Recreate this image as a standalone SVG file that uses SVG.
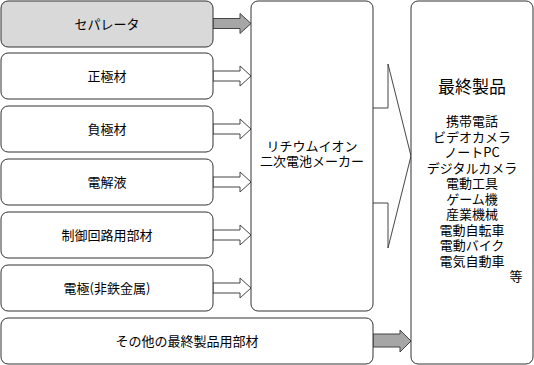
<svg xmlns="http://www.w3.org/2000/svg" width="534" height="365" viewBox="0 0 534 365">
<style>
.box{fill:#fff;stroke:#333;stroke-width:1}
.grey{fill:#d9d9d9}
.t{font-family:"Noto Sans CJK JP","Liberation Sans",sans-serif;font-size:13px;fill:#000;text-anchor:middle}
.big{font-size:17px}
.arw{fill:#fff;stroke:#444;stroke-width:1}
.arg{fill:#a6a6a6;stroke:#444;stroke-width:1}
</style>
<defs>
<path id="sa" d="M213,-5 H240 V-10 L251,0 L240,10 V5 H213 Z"/>
</defs>
<rect width="534" height="365" fill="#fff"/>
<g id="connectors">
<use href="#sa" y="23.5" class="arg"/>
<use href="#sa" y="76" class="arw"/>
<use href="#sa" y="129" class="arw"/>
<use href="#sa" y="182" class="arw"/>
<use href="#sa" y="235" class="arw"/>
<use href="#sa" y="288" class="arw"/>
<path class="arw" d="M373,108 H388 V64 L411,156 L388,248 V203 H373"/>
<path class="arg" d="M373,334 H400 V330 L411,341 L400,352 V347 H373 Z"/>
</g>
<g id="separator"><rect class="box grey" x="1" y="1" width="212" height="46" rx="7"/><text class="t" x="107" y="29">セパレータ</text></g>
<g id="cathode"><rect class="box" x="1" y="53" width="212" height="46" rx="7"/><text class="t" x="107" y="81">正極材</text></g>
<g id="anode"><rect class="box" x="1" y="106" width="212" height="46" rx="7"/><text class="t" x="107" y="134">負極材</text></g>
<g id="electrolyte"><rect class="box" x="1" y="159" width="212" height="46" rx="7"/><text class="t" x="107" y="187">電解液</text></g>
<g id="control"><rect class="box" x="1" y="212" width="212" height="46" rx="7"/><text class="t" x="107" y="240">制御回路用部材</text></g>
<g id="electrode"><rect class="box" x="1" y="265" width="212" height="46" rx="7"/><text class="t" x="107" y="293">電極(非鉄金属)</text></g>
<g id="other"><rect class="box" x="1" y="318" width="372" height="46" rx="7"/><text class="t" x="187" y="346">その他の最終製品用部材</text></g>
<g id="maker"><rect class="box" x="251" y="1" width="122" height="310" rx="7"/><text class="t" x="312" y="151">リチウムイオン<tspan x="312" dy="15">二次電池メーカー</tspan></text></g>
<g id="products"><rect class="box" x="411" y="1" width="122" height="363" rx="7"/>
<text class="t big" x="472" y="93">最終製品</text>
<text class="t" x="472" y="126">携帯電話<tspan x="472" dy="15.5">ビデオカメラ</tspan><tspan x="472" dy="15.5">ノートPC</tspan><tspan x="472" dy="15.5">デジタルカメラ</tspan><tspan x="472" dy="15.5">電動工具</tspan><tspan x="472" dy="15.5">ゲーム機</tspan><tspan x="472" dy="15.5">産業機械</tspan><tspan x="472" dy="15.5">電動自転車</tspan><tspan x="472" dy="15.5">電動バイク</tspan><tspan x="472" dy="15.5">電気自動車</tspan><tspan x="516" dy="15.5">等</tspan></text>
</g>
</svg>
